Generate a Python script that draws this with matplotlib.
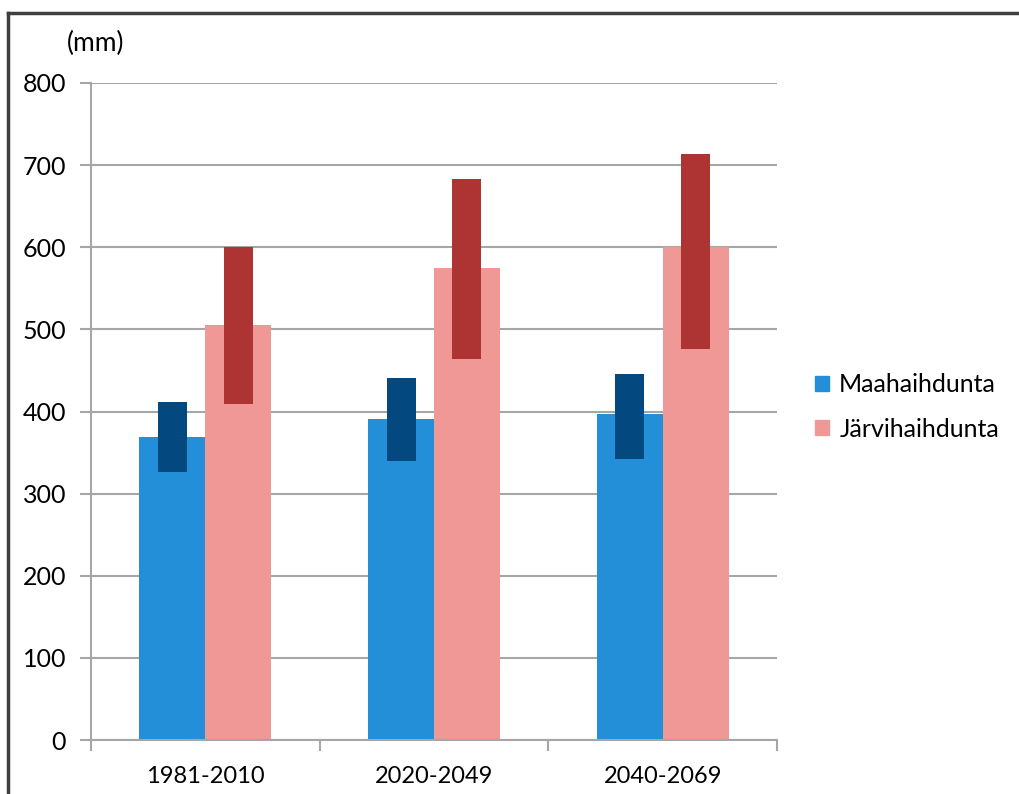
import matplotlib
matplotlib.use("Agg")
import matplotlib.pyplot as plt
from matplotlib.patches import Patch
from matplotlib.lines import Line2D
import numpy as np

categories = ["1981-2010", "2020-2049", "2040-2069"]
maa_mean = [369, 391, 397]
maa_low = [326, 340, 342]
maa_high = [411, 441, 446]
jarvi_mean = [505, 575, 600]
jarvi_low = [409, 464, 476]
jarvi_high = [600, 683, 713]
yticks = [0, 100, 200, 300, 400, 500, 600, 700, 800]
series_names = ["Maahaihdunta", "Järvihaihdunta"]

c_maa, c_maa_d = "#238FD9", "#03497F"
c_jar, c_jar_d = "#F09896", "#AE3333"
grid_c = "#A6A6A6"

plt.rcParams['font.family'] = ['Lato', 'DejaVu Sans']

W, H = 1020, 794
fig = plt.figure(figsize=(W / 100, H / 100), dpi=100)
ax = fig.add_axes([91 / W, (H - 740) / H, 686 / W, 657 / H])

x = np.arange(len(categories))
bw = 0.288
rw = 0.127
ax.bar(x - bw / 2, maa_mean, width=bw, color=c_maa, zorder=2)
ax.bar(x + bw / 2, jarvi_mean, width=bw, color=c_jar, zorder=2)
ax.bar(x - bw / 2, np.array(maa_high) - np.array(maa_low), bottom=maa_low,
       width=rw, color=c_maa_d, zorder=3)
ax.bar(x + bw / 2, np.array(jarvi_high) - np.array(jarvi_low), bottom=jarvi_low,
       width=rw, color=c_jar_d, zorder=3)

ax.set_xlim(-0.5, len(categories) - 0.5)
ax.set_ylim(0, 800)
ax.set_yticks(yticks)
ax.set_yticklabels([str(v) for v in yticks], fontsize=18)
ax.yaxis.grid(True, color=grid_c, linewidth=1.5, zorder=0)
ax.set_axisbelow(True)
ax.set_xticks(x)
ax.set_xticklabels(categories, fontsize=17)
ax.set_xticks(np.arange(len(categories) + 1) - 0.5, minor=True)
ax.tick_params(axis='x', which='major', length=0, pad=19)
ax.tick_params(axis='x', which='minor', length=8, width=1.5, color=grid_c)
ax.tick_params(axis='y', length=8, width=1.5, color=grid_c, pad=10)
for s in ['top', 'right']:
    ax.spines[s].set_visible(False)
for s in ['left', 'bottom']:
    ax.spines[s].set_color(grid_c)
    ax.spines[s].set_linewidth(1.5)

fig.text(67 / W, 1 - 43 / H, "(mm)", fontsize=19, va='center', ha='left')

handles = [Patch(color=c_maa), Patch(color=c_jar)]
fig.legend(handles, series_names, loc='center left',
           bbox_to_anchor=(793 / W, 1 - 407 / H), frameon=False, fontsize=18,
           handlelength=0.55, handleheight=0.55, handletextpad=0.4, labelspacing=0.85)

fig.add_artist(Line2D([8 / W, 1], [1 - 13 / H, 1 - 13 / H], color="#404040",
                      linewidth=2.5, transform=fig.transFigure))
fig.add_artist(Line2D([8 / W, 8 / W], [1 - 13 / H, 0], color="#404040",
                      linewidth=2.5, transform=fig.transFigure))

fig.savefig("out.png", dpi=100, facecolor="white")
